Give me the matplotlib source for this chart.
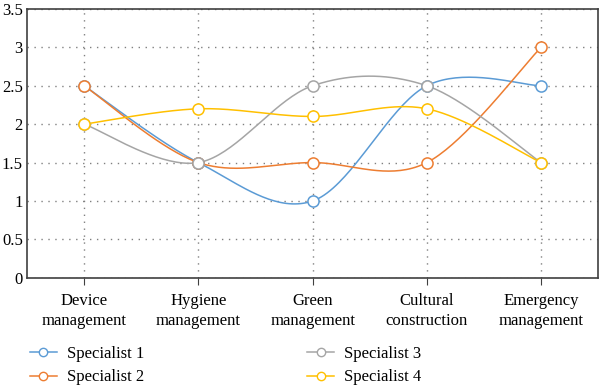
import numpy as np
import matplotlib.pyplot as plt

plt.rcParams['font.family'] = ['Liberation Serif', 'DejaVu Serif']

categories = ["Device\nmanagement", "Hygiene\nmanagement", "Green\nmanagement",
              "Cultural\nconstruction", "Emergency\nmanagement"]
specialist_1 = [2.5, 1.5, 1.0, 2.5, 2.5]
specialist_2 = [2.5, 1.5, 1.5, 1.5, 3.0]
specialist_3 = [2.0, 1.5, 2.5, 2.5, 1.5]
specialist_4 = [2.0, 2.2, 2.1, 2.2, 1.5]
y_ticks = [0, 0.5, 1, 1.5, 2, 2.5, 3, 3.5]

series = [("Specialist 1", specialist_1, "#5B9BD5"),
          ("Specialist 2", specialist_2, "#ED7D31"),
          ("Specialist 3", specialist_3, "#A5A5A5"),
          ("Specialist 4", specialist_4, "#FFC000")]


def smooth(x, y, n=40):
    """Excel-like smoothed line: cubic Bezier with Catmull-Rom control points."""
    x = np.asarray(x, float)
    y = np.asarray(y, float)
    px = np.concatenate([[x[0]], x, [x[-1]]])
    py = np.concatenate([[y[0]], y, [y[-1]]])
    xs, ys = [], []
    t = np.linspace(0, 1, n)
    for i in range(1, len(px) - 2):
        p0 = np.array([px[i], py[i]])
        p3 = np.array([px[i + 1], py[i + 1]])
        c1 = p0 + (np.array([px[i + 1], py[i + 1]]) - np.array([px[i - 1], py[i - 1]])) / 6
        c2 = p3 - (np.array([px[i + 2], py[i + 2]]) - np.array([px[i], py[i]])) / 6
        b = ((1 - t) ** 3)[:, None] * p0 + (3 * (1 - t) ** 2 * t)[:, None] * c1 \
            + (3 * (1 - t) * t ** 2)[:, None] * c2 + (t ** 3)[:, None] * p3
        xs.extend(b[:, 0])
        ys.extend(b[:, 1])
    return xs, ys


fig = plt.figure(figsize=(6, 3.88), dpi=100)
ax = fig.add_axes([0.045, 0.284, 0.952, 0.693])

x = np.arange(len(categories))
handles = []
for name, vals, color in series:
    sx, sy = smooth(x, vals)
    ax.plot(sx, sy, color=color, lw=1.1, zorder=2)
    ax.plot(x, vals, 'o', ms=8, mfc='white', mec=color, mew=1.1, zorder=3)
    h, = ax.plot([], [], '-o', color=color, lw=1.1, ms=6, mfc='white', mec=color, mew=1.0)
    handles.append(h)

ax.set_xlim(-0.5, 4.5)
ax.set_ylim(0, 3.5)
ax.set_yticks(y_ticks)
ax.set_yticklabels([f"{v:g}" for v in y_ticks])
ax.set_xticks(x)
ax.set_xticklabels(categories, fontsize=12, linespacing=1.3)
ax.tick_params(axis='y', length=0, labelsize=12, pad=3)
ax.tick_params(axis='x', length=5, direction='out', color='#404040', pad=6)
ax.grid(True, ls=(0, (1, 4)), color='#808080', lw=1)
for s in ax.spines.values():
    s.set_color('#404040')
    s.set_linewidth(1.2)

fig.legend(handles, [s[0] for s in series], loc='lower left', ncol=2,
           bbox_to_anchor=(0.025, -0.032), frameon=False, fontsize=12,
           handlelength=1.6, handletextpad=0.6, columnspacing=9.8, labelspacing=0.45)

fig.savefig("out.png", dpi=100)
